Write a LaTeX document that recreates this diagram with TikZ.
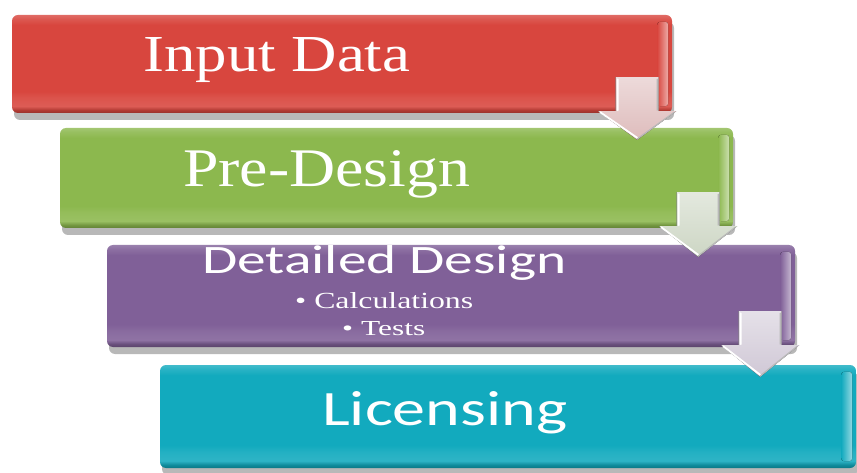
\documentclass[tikz,border=0pt]{standalone}
\usepackage{fontspec}
\setmainfont{Liberation Serif}
\newfontfamily\sansf{Carlito}
\usetikzlibrary{calc,shadows}

% base colours of the four stages
\definecolor{boxred}{RGB}{216,70,62}
\definecolor{boxgreen}{RGB}{140,184,78}
\definecolor{boxviolet}{RGB}{128,96,152}
\definecolor{boxteal}{RGB}{18,170,190}
% tints of the step arrows
\definecolor{arrred}{RGB}{222,188,188}
\definecolor{arrgreen}{RGB}{205,214,196}
\definecolor{arrviolet}{RGB}{208,200,214}

% bevelled vertical profile: dark lower rim, light band above it, light top rim
\newcommand\makebevel[2]{%
  \pgfdeclareverticalshading{#1}{100bp}{%
    color(0bp)=(#2!70!black); color(25bp)=(#2!70!black);
    color(26.5bp)=(#2!82!black); color(28.5bp)=(#2!88!white);
    color(33bp)=(#2!93!white); color(36bp)=(#2);
    color(70bp)=(#2); color(73bp)=(#2!90!white);
    color(75bp)=(#2!80!white); color(100bp)=(#2!80!white)}}
\makebevel{bevred}{boxred}
\makebevel{bevgreen}{boxgreen}
\makebevel{bevviolet}{boxviolet}
\makebevel{bevteal}{boxteal}

% block arrow hanging from the right end of one stage onto the next
\newcommand\stepdown[3]{%
  \fill[top color=#3!55!white, bottom color=#3]
    let \p1=(#1.south east), \p2=(#2.north) in
    (\x1-56.5pt,\y1+36pt) -- (\x1-13.5pt,\y1+36pt) -- (\x1-13.5pt,\y1+2pt)
    -- (\x1+4pt,\y1+2pt) -- (\x1-35pt,\y2-12pt) -- (\x1-74pt,\y1+2pt)
    -- (\x1-56.5pt,\y1+2pt) -- cycle;
  \draw[white, line width=1.8pt, line cap=round]
    let \p1=(#1.south east), \p2=(#2.north) in
    (\x1-72pt,\y1+1pt) -- (\x1-35pt,\y2-10pt)
    (\x1-54.5pt,\y1+34pt) -- (\x1-54.5pt,\y1+3pt);
  \draw[black!28, line width=1.1pt, line cap=round]
    let \p1=(#1.south east), \p2=(#2.north) in
    (\x1-35pt,\y2-11pt) -- (\x1+2pt,\y1+1pt)
    (\x1-15pt,\y1+34pt) -- (\x1-15pt,\y1+3pt);
}

% light strip along the rounded right end of a stage
\newcommand\rimshine[2]{%
  \fill[rounded corners=3pt, left color=#2, right color=#2!45!white]
    ($(#1.north east)+(-15,7)$) rectangle ($(#1.south east)+(-4,-7)$);
}

\begin{document}
\begin{tikzpicture}[x=1pt, y=-1pt,
  stepbox/.style={rounded corners=6pt, inner sep=0pt, draw=none,
    drop shadow={shadow xshift=2pt, shadow yshift=-7pt, opacity=.28, fill=black}},
  caption/.style={text=white, inner sep=0pt, anchor=base west}]
\useasboundingbox[fill=white] (0,0) rectangle (857,473);

% the four stages
\node[stepbox, shading=bevred, minimum width=660pt, minimum height=98pt] (b1) at (342,64) {};
\node[stepbox, shading=bevgreen, minimum width=673pt, minimum height=100pt] (b2) at (396.5,178) {};
\node[stepbox, shading=bevviolet, minimum width=688pt, minimum height=102pt] (b3) at (451,296) {};
\node[stepbox, shading=bevteal, minimum width=696pt, minimum height=103pt] (b4) at (508,416.5) {};

\rimshine{b1}{boxred}
\rimshine{b2}{boxgreen}
\rimshine{b3}{boxviolet}
\rimshine{b4}{boxteal}

% captions
\node[caption] (t1) at (143,72) {\resizebox{267pt}{34pt}{Input Data}};
\node[caption] (t2) at (183,187) {\resizebox{287pt}{36pt}{Pre-Design}};
\node[caption] (t3) at (202,273) {\resizebox{364pt}{28pt}{\sansf Detailed Design}};
\node[caption] (t3a) at (295,308) {\resizebox{178pt}{16pt}{\textbullet\ Calculations}};
\node[caption] (t3b) at (342,335) {\resizebox{83pt}{14pt}{\textbullet\ Tests}};
\node[caption] (t4) at (322,425) {\resizebox{245pt}{34pt}{\sansf Licensing}};

% arrows between consecutive stages
\stepdown{b1}{b2}{arrred}
\stepdown{b2}{b3}{arrgreen}
\stepdown{b3}{b4}{arrviolet}
\end{tikzpicture}
\end{document}
